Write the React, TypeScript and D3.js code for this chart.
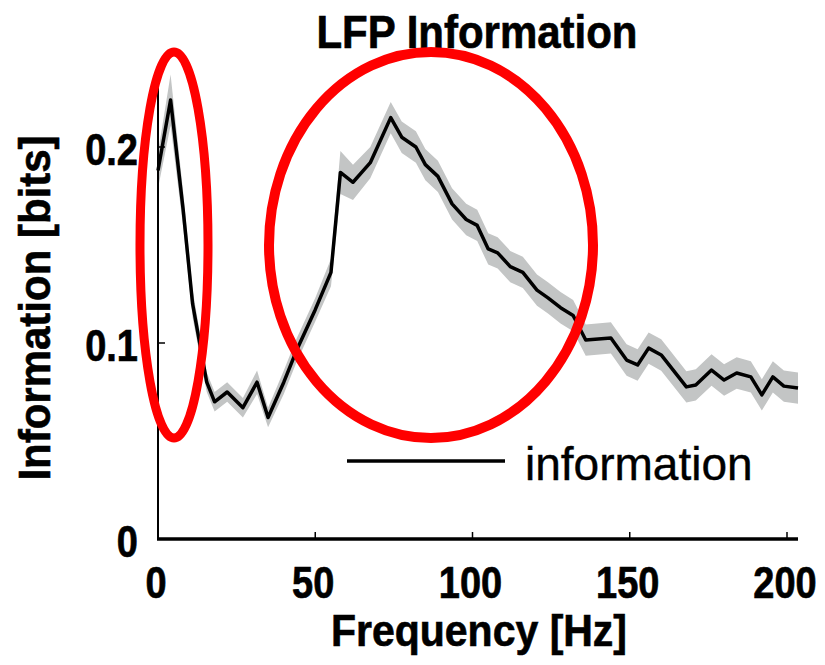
import React from "react";
import * as d3 from "d3";

// Data
const freq = [0, 4, 8, 11, 15.5, 18, 22, 27, 31.5, 35, 40, 44, 50, 55, 58, 62, 67.5, 74, 77.5, 82, 85, 89, 93.5, 98, 101.5, 105, 108, 112, 116, 120.5, 124, 128, 132, 136, 144, 149, 152.5, 156, 160, 168, 171, 176, 180, 184, 188.5, 192, 195.5, 199, 203.5];
const info = [0.188, 0.224, 0.168, 0.12, 0.08, 0.07, 0.075, 0.067, 0.08, 0.062, 0.08, 0.096, 0.117, 0.136, 0.187, 0.182, 0.192, 0.215, 0.205, 0.2, 0.191, 0.185, 0.171, 0.163, 0.16, 0.148, 0.146, 0.139, 0.136, 0.127, 0.123, 0.118, 0.114, 0.1015, 0.1026, 0.0913, 0.0888, 0.0974, 0.0939, 0.0776, 0.0786, 0.0862, 0.0811, 0.0847, 0.0827, 0.0735, 0.0827, 0.078, 0.077];
const err = [0.009, 0.013, 0.009, 0.007, 0.005, 0.005, 0.005, 0.005, 0.006, 0.005, 0.006, 0.006, 0.006, 0.007, 0.011, 0.009, 0.008, 0.008, 0.008, 0.008, 0.008, 0.008, 0.008, 0.008, 0.008, 0.008, 0.008, 0.008, 0.008, 0.008, 0.008, 0.008, 0.008, 0.008, 0.008, 0.008, 0.008, 0.008, 0.008, 0.008, 0.008, 0.008, 0.008, 0.008, 0.008, 0.008, 0.008, 0.008, 0.008];
const xTicks = [0, 50, 100, 150, 200];
const yTicks = [0, 0.1, 0.2];
const yTickLabels = ["0", "0.1", "0.2"];
const title = "LFP Information";
const xLabel = "Frequency [Hz]";
const yLabel = "Information [bits]";
const legendLabel = "information";

const FONT = "'Liberation Sans', Arial, Helvetica, sans-serif";

export default function App() {
  const x = d3.scaleLinear().domain([0, 200]).range([158, 787]);
  const y = d3.scaleLinear().domain([0, 0.2]).range([539, 147]);
  const pts = freq.map((f, i) => ({ f, v: info[i], e: err[i] }));
  const line = d3.line<any>().x((d) => x(d.f)).y((d) => y(d.v));
  const area = d3
    .area<any>()
    .x((d) => x(d.f))
    .y0((d) => y(d.v - d.e))
    .y1((d) => y(d.v + d.e));
  const xEnd = x(203.5);
  const yTop = y(0.232);

  return (
    <svg
      width={825}
      height={665}
      style={{ position: "absolute", left: 0, top: 0, background: "#fff" }}
    >
      <rect x={0} y={0} width={825} height={665} fill="#fff" />
      {/* error band */}
      <path d={area(pts) || ""} fill="#c3c5c5" stroke="none" />
      {/* line */}
      <path d={line(pts) || ""} fill="none" stroke="#000" strokeWidth={3.5} strokeLinejoin="round" />
      {/* axes */}
      <line x1={x(0)} x2={x(0)} y1={y(0)} y2={yTop} stroke="#000" strokeWidth={2} />
      <line x1={x(0) - 1} x2={xEnd} y1={y(0)} y2={y(0)} stroke="#000" strokeWidth={3.5} />
      {xTicks.map((t) => (
        <g key={"xt" + t}>
          <line x1={x(t)} x2={x(t)} y1={y(0)} y2={y(0) - 7} stroke="#000" strokeWidth={1.5} />
          <text
            transform={`translate(${x(t) - 2},598) scale(1,1.15)`}
            textAnchor="middle"
            fontFamily={FONT}
            fontWeight="bold"
            fontSize={38}
            fill="#000"
            stroke="#000"
            strokeWidth={0.6}
          >
            {t}
          </text>
        </g>
      ))}
      {yTicks.map((t, i) => (
        <g key={"yt" + t}>
          <line x1={x(0)} x2={x(0) + 7} y1={y(t)} y2={y(t)} stroke="#000" strokeWidth={1.5} />
          <text
            transform={`translate(138,${y(t) + 18}) scale(1,1.15)`}
            textAnchor="end"
            fontFamily={FONT}
            fontWeight="bold"
            fontSize={38}
            fill="#000"
            stroke="#000"
            strokeWidth={0.6}
          >
            {yTickLabels[i]}
          </text>
        </g>
      ))}
      {/* title */}
      <text
        transform="translate(477,48) scale(1,1.1)"
        textAnchor="middle"
        fontFamily={FONT}
        fontWeight="bold"
        fontSize={42}
        fill="#000"
        stroke="#000"
        strokeWidth={0.6}
      >
        {title}
      </text>
      {/* x label */}
      <text
        transform="translate(479,646) scale(1,1.08)"
        textAnchor="middle"
        fontFamily={FONT}
        fontWeight="bold"
        fontSize={41}
        fill="#000"
        stroke="#000"
        strokeWidth={0.6}
      >
        {xLabel}
      </text>
      {/* y label */}
      <text
        transform="translate(50,308) rotate(-90) scale(1,1.05)"
        textAnchor="middle"
        fontFamily={FONT}
        fontWeight="bold"
        fontSize={42}
        fill="#000"
        stroke="#000"
        strokeWidth={0.6}
      >
        {yLabel}
      </text>
      {/* legend */}
      <line x1={347} x2={505} y1={461} y2={461} stroke="#000" strokeWidth={3.5} />
      <text x={525} y={480} fontFamily={FONT} fontSize={46} fill="#000" stroke="#000" strokeWidth={0.4}>
        {legendLabel}
      </text>
      {/* red annotation ellipses */}
      <ellipse cx={174} cy={245} rx={34} ry={193} fill="none" stroke="#ff0000" strokeWidth={9} />
      <ellipse cx={431} cy={245} rx={162} ry={193} fill="none" stroke="#ff0000" strokeWidth={10} />
    </svg>
  );
}
